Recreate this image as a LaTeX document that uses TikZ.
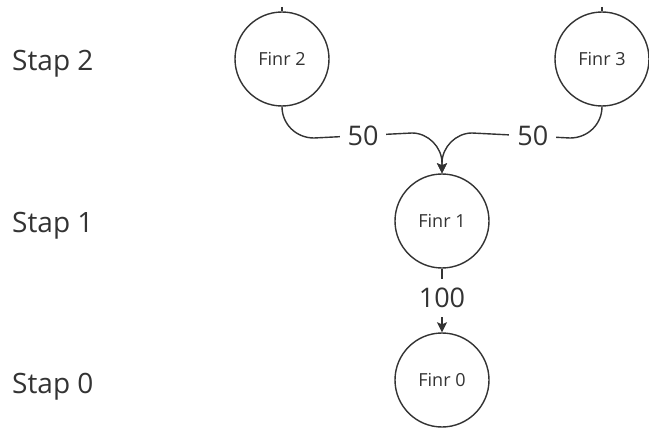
\documentclass[tikz,border=0pt]{standalone}
\usepackage{fontspec}
\setmainfont{Open Sans}
\usetikzlibrary{arrows.meta}
\definecolor{ink}{HTML}{333333}
\begin{document}
\begin{tikzpicture}[x=1pt,y=-1pt,
  finr/.style={circle,draw=ink,line width=1.4pt,minimum size=94pt,inner sep=0pt,text=ink,font=\fontsize{18}{20}\selectfont},
  stap/.style={anchor=base west,inner sep=0pt,text=ink,font=\fontsize{28}{30}\selectfont},
  edge/.style={draw=ink,line width=1.4pt,-{Stealth[length=10pt,width=10pt,inset=2pt]}},
  lbl/.style={fill=white,inner xsep=8pt,inner ysep=2pt,text=ink,font=\fontsize{27}{30}\selectfont},
  vlbl/.style={fill=white,inner xsep=2pt,inner ysep=9pt,text=ink,font=\fontsize{27}{30}\selectfont},
  tick/.style={draw=ink,line width=1.4pt}]
\useasboundingbox (0,0) rectangle (649,428);
\fill[white] (0,0) rectangle (649,428);
\node[stap] (s2) at (12,71) {Stap 2};
\node[stap] (s1) at (12,232) {Stap 1};
\node[stap] (s0) at (12,393) {Stap 0};
\node[finr] (f2) at (282,59) {Finr 2};
\node[finr] (f3) at (602,59) {Finr 3};
\node[finr] (f1) at (442,221) {Finr 1};
\node[finr] (f0) at (442,380) {Finr 0};
\coordinate (t2) at (282,7);
\coordinate (t3) at (602,7);
\draw[tick] (t2) -- (f2.north);
\draw[tick] (t3) -- (f3.north);
\draw[edge] (f2.south) .. controls (282,124) and (296,138) .. (314,138)
  -- node[lbl]{50} (412,133)
  .. controls (428,133) and (442,147) .. (442,163) -- (f1.north);
\draw[edge] (f3.south) .. controls (602,124) and (588,138) .. (570,138)
  -- node[lbl,pos=0.38]{50} (472,133)
  .. controls (456,133) and (442,147) .. (442,163) -- (f1.north);
\draw[edge] (f1.south) -- node[vlbl,pos=0.46]{100} (f0.north);
\end{tikzpicture}
\end{document}
